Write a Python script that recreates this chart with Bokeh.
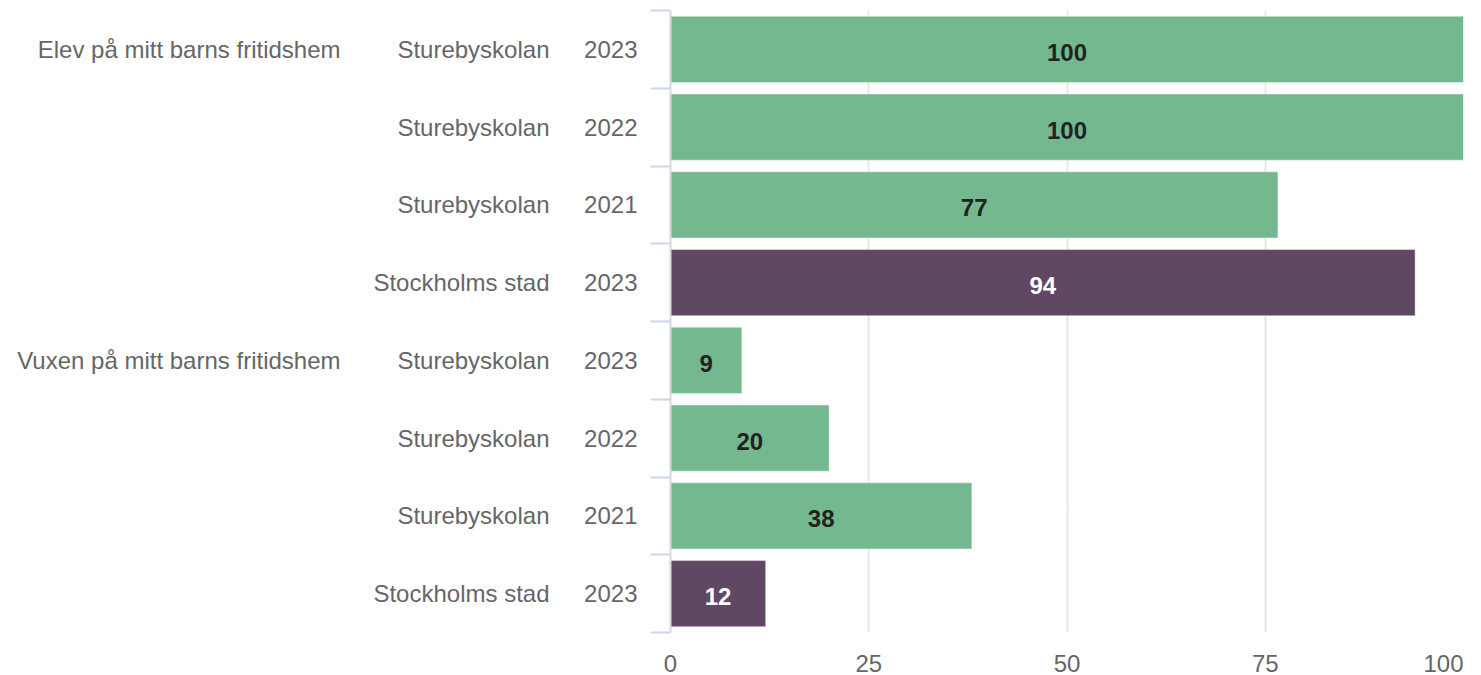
from bokeh.plotting import figure
from bokeh.models import Range1d, LinearAxis, FixedTicker, ColumnDataSource
from bokeh.core.properties import value
from bokeh.embed import file_html
from bokeh.resources import INLINE

# ---- data ----
groups = ["Elev på mitt barns fritidshem", "Vuxen på mitt barns fritidshem"]
group_rows = [0, 4]
schools = ["Sturebyskolan", "Sturebyskolan", "Sturebyskolan", "Stockholms stad",
           "Sturebyskolan", "Sturebyskolan", "Sturebyskolan", "Stockholms stad"]
years = ["2023", "2022", "2021", "2023", "2023", "2022", "2021", "2023"]
values = [100, 100, 76.6, 93.9, 9, 20, 38, 12]
x_ticks = [0, 25, 50, 75, 100]
x_tick_labels = ["0", "25", "50", "75", "100"]

GREEN = "#74b88f"
PURPLE = "#604864"
FONT = "Liberation Sans"
LABEL_GRAY = "#666666"

W, H = 1481, 675
BL, BR, BT, BB = 670, 18, 10, 43
n = len(values)
ypos = [i + 0.5 for i in range(n)]
bar_colors = [PURPLE if s == "Stockholms stad" else GREEN for s in schools]
text_colors = ["#ffffff" if s == "Stockholms stad" else "#222222" for s in schools]

src = ColumnDataSource(dict(
    y=ypos, v=values, mid=[v / 2 for v in values],
    lab=[str(round(v)) for v in values], color=bar_colors, tcolor=text_colors,
))

xmin, xmax = x_ticks[0], x_ticks[-1]
p = figure(width=W, height=H, x_range=Range1d(xmin, xmax), y_range=Range1d(n, 0),
           output_backend="svg", toolbar_location=None, y_axis_location=None,
           min_border_left=BL, min_border_right=BR, min_border_top=BT, min_border_bottom=BB)
p.outline_line_color = None
p.background_fill_color = "white"
p.border_fill_color = "white"

# grid
p.xgrid.ticker = FixedTicker(ticks=x_ticks[1:])
p.xgrid.grid_line_color = "#e6e6e6"
p.xgrid.grid_line_width = 2
p.ygrid.visible = False

# bars and value labels
p.hbar(y="y", left=0, right="v", height=0.85, fill_color="color",
       line_color="white", line_width=1, line_alpha=0.4, source=src)
p.text(x="mid", y="y", text="lab", text_align="center", text_baseline="middle",
       text_font=value(FONT), text_font_style="bold", text_font_size="24px",
       text_color="tcolor", y_offset=3, source=src)

# x axis: last label kept inside the plot (right edge of label at the last tick)
px_per_unit = (W - BL - BR) / (xmax - xmin)
last_label_half_px = 20
label_pos = list(x_ticks[:-1]) + [x_ticks[-1] - last_label_half_px / px_per_unit]
xa = p.xaxis[0]
xa.ticker = FixedTicker(ticks=label_pos)
xa.major_label_overrides = {label_pos[i]: x_tick_labels[i] for i in range(len(label_pos))}
xa.axis_line_color = None
xa.major_tick_line_color = None
xa.minor_tick_line_color = None
xa.major_label_text_font = FONT
xa.major_label_text_font_size = "24px"
xa.major_label_text_color = LABEL_GRAY
xa.major_label_standoff = 16


def style(ax, standoff):
    ax.major_label_text_font = FONT
    ax.major_label_text_font_size = "24px"
    ax.major_label_text_color = LABEL_GRAY
    ax.major_label_standoff = standoff
    ax.major_tick_line_color = None
    ax.minor_tick_line_color = None
    ax.axis_line_color = None


year_axis = LinearAxis(ticker=FixedTicker(ticks=ypos, minor_ticks=list(range(n + 1))),
                       major_label_overrides={ypos[i]: years[i] for i in range(n)})
style(year_axis, 13)
year_axis.major_tick_out = 20
year_axis.major_tick_in = 0
year_axis.minor_tick_out = 20
year_axis.minor_tick_in = 0
year_axis.minor_tick_line_color = "#ccd6eb"
year_axis.minor_tick_line_width = 2
year_axis.axis_line_color = "#d8d8e0"
year_axis.axis_line_width = 2

school_axis = LinearAxis(ticker=FixedTicker(ticks=ypos),
                         major_label_overrides={ypos[i]: schools[i] for i in range(n)})
style(school_axis, 32)
school_axis.major_tick_out = 0
school_axis.major_tick_in = 0

gticks = [ypos[r] for r in group_rows]
group_axis = LinearAxis(ticker=FixedTicker(ticks=gticks),
                        major_label_overrides={gticks[i]: groups[i] for i in range(len(groups))})
style(group_axis, 30)
group_axis.major_tick_out = 0
group_axis.major_tick_in = 0

p.add_layout(year_axis, "left")
p.add_layout(school_axis, "left")
p.add_layout(group_axis, "left")

open("out.html", "w").write(file_html(p, INLINE))
